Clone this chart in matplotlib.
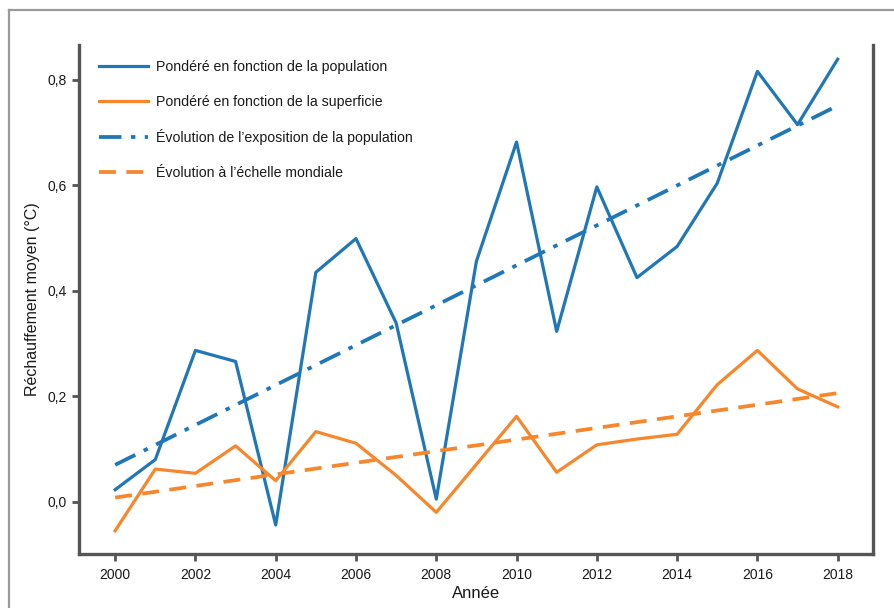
import matplotlib
matplotlib.use("Agg")
import matplotlib.pyplot as plt
from matplotlib.lines import Line2D
from matplotlib.ticker import FuncFormatter

plt.rcParams['font.family'] = ['Liberation Sans', 'DejaVu Sans']

years = list(range(2000, 2019))
pop_weighted = [0.023, 0.080, 0.287, 0.266, -0.044, 0.435, 0.499, 0.339, 0.005,
                0.456, 0.682, 0.323, 0.597, 0.425, 0.484, 0.604, 0.816, 0.715, 0.839]
area_weighted = [-0.055, 0.062, 0.054, 0.106, 0.040, 0.133, 0.111, 0.050, -0.020,
                 0.071, 0.162, 0.056, 0.108, 0.119, 0.128, 0.222, 0.287, 0.214, 0.180]
trend_years = [2000, 2018]
pop_trend = [0.070, 0.751]
global_trend = [0.008, 0.206]

labels = ["Pondéré en fonction de la population",
          "Pondéré en fonction de la superficie",
          "Évolution de l\u2019exposition de la population",
          "Évolution à l\u2019échelle mondiale"]
y_ticks = [0.0, 0.2, 0.4, 0.6, 0.8]
x_ticks = list(range(2000, 2019, 2))

blue = "#1f77b8"
orange = "#f8862b"
spine_col = "#555555"

fig = plt.figure(figsize=(8.95, 6.08), dpi=100)
ax = fig.add_axes([0.0883, 0.0888, 0.8871, 0.8372])

lw = 2.3
ax.plot(years, pop_weighted, color=blue, lw=lw, label=labels[0])
ax.plot(years, area_weighted, color=orange, lw=lw, label=labels[1])
ax.plot(trend_years, pop_trend, color=blue, lw=lw + 0.4,
        dashes=(6, 2.5, 1.2, 2.5), label=labels[2])
ax.plot(trend_years, global_trend, color=orange, lw=lw + 0.4,
        dashes=(4.5, 2.8), label=labels[3])

ax.set_xlim(1999.1, 2018.88)
ax.set_ylim(-0.099, 0.866)
ax.set_xticks(x_ticks)
ax.set_yticks(y_ticks)
ax.yaxis.set_major_formatter(FuncFormatter(lambda v, p: f"{v:.1f}".replace(".", ",")))

for side in ("left", "right", "bottom"):
    ax.spines[side].set_color(spine_col)
    ax.spines[side].set_linewidth(2.4)
ax.spines["top"].set_visible(False)
ax.tick_params(axis="both", colors=spine_col, width=2, length=5,
               labelcolor="#1a1a1a", labelsize=10)
ax.tick_params(axis="x", pad=5)
ax.tick_params(axis="y", pad=4)

ax.set_xlabel("Année", fontsize=12, color="#1a1a1a", labelpad=3)
ax.set_ylabel("Réchauffement moyen (°C)", fontsize=11.5, color="#1a1a1a", labelpad=5)

leg = ax.legend(loc="upper left", bbox_to_anchor=(0.013, 0.99), frameon=False,
                fontsize=10.2, handlelength=3.45, handletextpad=0.55,
                labelspacing=1.45, borderaxespad=0.3)
for t in leg.get_texts():
    t.set_color("#1a1a1a")

# thin grey frame around the chart area
frame_col = "#9a9a9a"
fig.add_artist(Line2D([9 / 895, 1.0], [1 - 10 / 608, 1 - 10 / 608],
                      transform=fig.transFigure, color=frame_col, lw=1.6))
fig.add_artist(Line2D([9 / 895, 9 / 895], [0.0, 1 - 10 / 608],
                      transform=fig.transFigure, color=frame_col, lw=1.6))

fig.savefig("out.png", dpi=100)
